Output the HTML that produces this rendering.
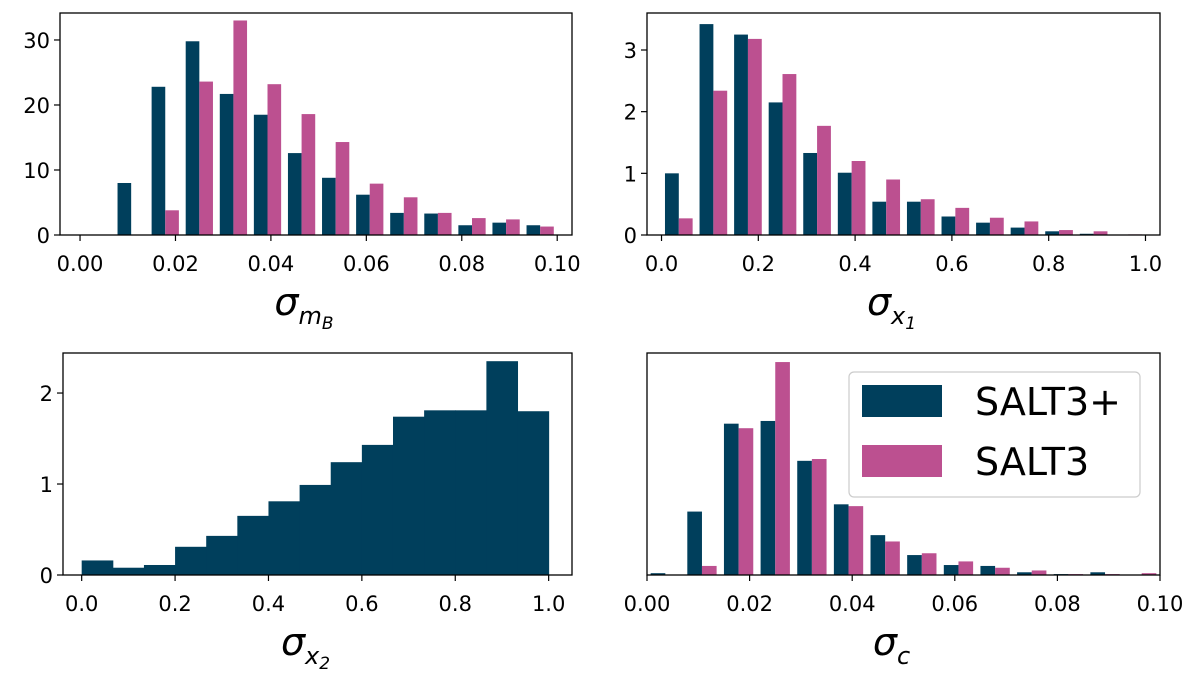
<!DOCTYPE html>
<html><head><meta charset="utf-8">
<style>
body{margin:0;background:#fff;}
svg{display:block;font-family:"DejaVu Sans","Liberation Sans",sans-serif;}
.tick{font-size:21px;fill:#000;}
</style></head>
<body>
<svg id="chart" width="1200" height="677" viewBox="0 0 1200 677"></svg>
<script>
// Panel data (bin counts / densities)
const mbBlue=[0,8,22.8,29.8,21.7,18.5,12.6,8.8,6.2,3.4,3.3,1.5,1.9,1.5];
const mbPink=[0,0,3.8,23.6,33,23.2,18.6,14.3,7.9,5.8,3.4,2.6,2.4,1.3];
const x1Blue=[1.0,3.42,3.25,2.15,1.33,1.01,0.54,0.54,0.3,0.2,0.12,0.06,0.02,0.0];
const x1Pink=[0.27,2.34,3.18,2.61,1.77,1.2,0.9,0.58,0.44,0.28,0.22,0.08,0.06,0.01];
const x2Blue=[0.16,0.08,0.11,0.31,0.43,0.65,0.81,0.99,1.24,1.43,1.74,1.81,1.81,2.35,1.80];
const cBlue=[0.02,0.7,1.67,1.7,1.26,0.78,0.44,0.22,0.11,0.1,0.03,0.01,0.03,0];
const cPink=[0,0.1,1.62,2.35,1.28,0.76,0.37,0.24,0.15,0.08,0.05,0.01,0.01,0.02];
const mbTicks=["0.00","0.02","0.04","0.06","0.08","0.10"];
const mbTickVals=[0,0.02,0.04,0.06,0.08,0.10];
const mbYTicks=[0,10,20,30];
const x1TickVals=[0,0.2,0.4,0.6,0.8,1.0];
const x1Ticks=["0.0","0.2","0.4","0.6","0.8","1.0"];
const x1YTicks=[0,1,2,3];
const x2YTicks=[0,1,2];
const legendLabels=["SALT3+","SALT3"];

const BLUE="#003f5c",PINK="#bc5090";
const svg=document.getElementById('chart');
const NS="http://www.w3.org/2000/svg";
function mk(tag,attrs,parent){const e=document.createElementNS(NS,tag);for(const k in attrs)e.setAttribute(k,attrs[k]);(parent||svg).appendChild(e);return e;}

function panel(p){
  const g=mk('g',{});
  
  
  const sx=v=>p.x0+(v-p.xmin)/(p.xmax-p.xmin)*(p.x1-p.x0);
  const sy=v=>p.y1-(v-p.ymin)/(p.ymax-p.ymin)*(p.y1-p.y0);
  const n=p.nbins, bw=(p.lo2-p.lo)/n;
  if(p.pink){
    for(let i=0;i<n;i++){
      const l=p.lo+i*bw, w=bw*0.4;
      [[p.blue,BLUE,l+bw*0.1,'bar-saltplus-'+i],[p.pink,PINK,l+bw*0.5,'bar-salt3-'+i]].forEach(([arr,col,xs,nm])=>{
        const v=arr[i]; if(v<=0) return;
        const r=mk('rect',{x:sx(xs),y:sy(v),width:sx(xs+w)-sx(xs),height:sy(0)-sy(v),fill:col},g);
        
        
      });
    }
  } else {
    for(let i=0;i<n;i++){
      const l=p.lo+i*bw,v=p.blue[i];
      const r=mk('rect',{x:sx(l),y:sy(v),width:sx(l+bw)-sx(l)+0.5,height:sy(0)-sy(v),fill:BLUE},g);
      
      
    }
  }
  const fr=mk('rect',{x:p.x0,y:p.y0,width:p.x1-p.x0,height:p.y1-p.y0,fill:'none',stroke:'#000','stroke-width':1.3},g);
  
  
  p.xt.forEach((v,i)=>{
    const x=sx(v);
    mk('line',{x1:x,x2:x,y1:p.y1,y2:p.y1+6,stroke:'#000','stroke-width':1.2},g);
    const t=mk('text',{x:x,y:p.y1+36,'text-anchor':'middle',class:'tick'},g);
    t.textContent=p.xl[i];
    
    
  });
  (p.yt||[]).forEach(v=>{
    const y=sy(v);
    mk('line',{x1:p.x0-6,x2:p.x0,y1:y,y2:y,stroke:'#000','stroke-width':1.2},g);
    const t=mk('text',{x:p.x0-10,y:y+8,'text-anchor':'end',class:'tick'},g);
    t.textContent=String(v);
    
    
  });
  const lab=mk('text',{x:(p.x0+p.x1)/2-12,y:p.y1+80,'text-anchor':'middle','font-size':'38','font-style':'italic'},g);
  
  
  lab.innerHTML='σ<tspan font-size="24" dy="9">'+p.sub+'</tspan>';
  return g;
}
panel({name:'panel-sigma-mb',x0:60,x1:572,y0:13,y1:235,xmin:-0.0042,xmax:0.1031,ymin:0,ymax:34.15,lo:0,lo2:0.1,nbins:14,blue:mbBlue,pink:mbPink,xt:mbTickVals,xl:mbTicks,yt:mbYTicks,sub:'m<tspan font-size="17" dy="5">B</tspan>'});
panel({name:'panel-sigma-x1',x0:647,x1:1160,y0:13,y1:235,xmin:-0.03,xmax:1.03,ymin:0,ymax:3.6,lo:0,lo2:1,nbins:14,blue:x1Blue,pink:x1Pink,xt:x1TickVals,xl:x1Ticks,yt:x1YTicks,sub:'x<tspan font-size="17" dy="5">1</tspan>'});
panel({name:'panel-sigma-x2',x0:63,x1:572,y0:353,y1:575,xmin:-0.04,xmax:1.05,ymin:0,ymax:2.44,lo:0,lo2:1,nbins:15,blue:x2Blue,pink:null,xt:x1TickVals,xl:x1Ticks,yt:x2YTicks,sub:'x<tspan font-size="17" dy="5">2</tspan>'});
panel({name:'panel-sigma-c',x0:647,x1:1160,y0:353,y1:575,xmin:0,xmax:0.1,ymin:0,ymax:2.45,lo:0,lo2:0.1,nbins:14,blue:cBlue,pink:cPink,xt:mbTickVals,xl:mbTicks,yt:null,sub:'c'});

// legend
const lg=mk('g',{});


mk('rect',{x:849,y:372,width:291,height:125,rx:5,fill:'#fff','fill-opacity':0.8,stroke:'#ccc','stroke-width':1.2},lg);
[[BLUE,385],[PINK,445]].forEach(([c,y],i)=>{
  const r=mk('rect',{x:862,y:y,width:80,height:32,fill:c},lg);
  
  
  const t=mk('text',{x:975,y:y+30,'font-size':'38',fill:'#000'},lg);
  t.textContent=legendLabels[i];
  
  
});
</script>
</body></html>
